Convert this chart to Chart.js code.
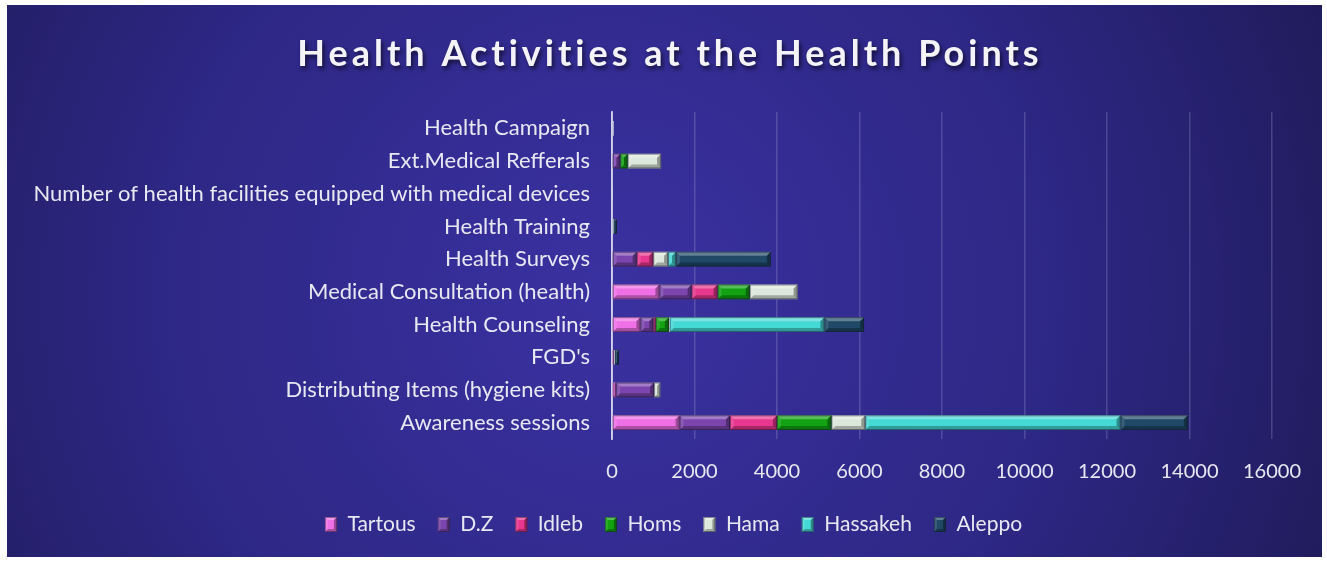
<!DOCTYPE html>
<html>
<head>
<meta charset="utf-8">
<title>Health Activities at the Health Points</title>
<script src="https://cdn.jsdelivr.net/npm/chart.js@4.4.1/dist/chart.umd.min.js"></script>
<style>
    html, body { margin: 0; padding: 0; background: #ffffff; }
    #wrap { position: absolute; left: 7px; top: 5px; width: 1315px; height: 552px; }
</style>
</head>
<body>
<div id="wrap"><canvas id="healthChart"></canvas></div>
<script>
// categories, top to bottom
const activities = [
    "Health Campaign",
    "Ext.Medical Refferals",
    "Number of health facilities equipped with medical devices",
    "Health Training",
    "Health Surveys",
    "Medical Consultation (health)",
    "Health Counseling",
    "FGD's",
    "Distributing Items (hygiene kits)",
    "Awareness sessions"
];

const tartous  = [0,   0,   0,  0,    0, 1150,  690,  50, 100, 1640];
const dz       = [0, 200,   0,  0,  600,  780,  310,   0, 920, 1220];
const idleb    = [0,   0,   0,  0,  400,  630,   60,   0,   0, 1140];
const homs     = [0, 180,   0, 20,    0,  780,  320,   0,   0, 1320];
const hama     = [40, 810, 10, 20,  360, 1160,   20,  20, 150,  820];
const hassakeh = [0,   0,   0,  0,  190,    0, 3750,   0,   0, 6190];
const aleppo   = [0,   0,   0, 80, 2300,    0,  960, 100,   0, 1630];

const xTicks = [0, 2000, 4000, 6000, 8000, 10000, 12000, 14000, 16000];

const series = [
    { label: "Tartous",  data: tartous,  color: "#ef6fe6" },
    { label: "D.Z",      data: dz,       color: "#7b45ad" },
    { label: "Idleb",    data: idleb,    color: "#e8378f" },
    { label: "Homs",     data: homs,     color: "#12a212" },
    { label: "Hama",     data: hama,     color: "#dde8dc" },
    { label: "Hassakeh", data: hassakeh, color: "#45d9d5" },
    { label: "Aleppo",   data: aleppo,   color: "#1f4966" }
];

const textColor = "#e8e8f2";

// gradient background over the whole canvas
const backgroundPlugin = {
    id: "bg",
    beforeDraw(chart) {
        const { ctx, width, height } = chart;
        const g = ctx.createRadialGradient(600, 290, 20, 600, 290, 820);
        g.addColorStop(0, "#3a31a0");
        g.addColorStop(0.55, "#2d2784");
        g.addColorStop(1, "#1e1a55");
        ctx.save();
        ctx.fillStyle = g;
        ctx.fillRect(0, 0, width, height);
        ctx.restore();
    }
};

// legend sits a little right of centre in the original
const legendShift = {
    id: "legendShift",
    afterLayout(chart) {
        if (chart.legend) {
            chart.legend.left += 20;
            chart.legend.right += 20;
        }
    }
};

function bevel(ctx, x0, y0, x1, y1, b) {
    const poly = (pts, fill) => {
        ctx.beginPath();
        ctx.moveTo(pts[0][0], pts[0][1]);
        for (let k = 1; k < pts.length; k++) ctx.lineTo(pts[k][0], pts[k][1]);
        ctx.closePath();
        ctx.fillStyle = fill;
        ctx.fill();
    };
    poly([[x0, y0], [x1, y0], [x1 - b, y0 + b], [x0 + b, y0 + b]], "rgba(255,255,255,0.30)");
    poly([[x0, y1], [x1, y1], [x1 - b, y1 - b], [x0 + b, y1 - b]], "rgba(0,0,0,0.28)");
    poly([[x0, y0], [x0 + b, y0 + b], [x0 + b, y1 - b], [x0, y1]], "rgba(255,255,255,0.12)");
    poly([[x1, y0], [x1 - b, y0 + b], [x1 - b, y1 - b], [x1, y1]], "rgba(0,0,0,0.35)");
    ctx.strokeStyle = "rgba(20,20,40,0.45)";
    ctx.lineWidth = 1;
    ctx.strokeRect(x0 + 0.5, y0 + 0.5, x1 - x0 - 1, y1 - y0 - 1);
}

// bevel facets on each bar and legend box
const bevelPlugin = {
    id: "bevel",
    afterDatasetsDraw(chart) {
        const ctx = chart.ctx;
        ctx.save();
        chart.data.datasets.forEach((ds, i) => {
            chart.getDatasetMeta(i).data.forEach(bar => {
                const x0 = Math.min(bar.x, bar.base);
                const x1 = Math.max(bar.x, bar.base);
                if (x1 - x0 < 1) return;
                bevel(ctx, x0, bar.y - bar.height / 2, x1, bar.y + bar.height / 2, Math.min(4, (x1 - x0) / 2));
            });
        });
        ctx.restore();
    },
    afterDraw(chart) {
        const ctx = chart.ctx;
        const legend = chart.legend;
        if (!legend || !legend.legendHitBoxes) return;
        ctx.save();
        legend.legendHitBoxes.forEach(hb => {
            const bw = legend.options.labels.boxWidth;
            const bh = legend.options.labels.boxHeight;
            const y0 = hb.top + (hb.height - bh) / 2;
            bevel(ctx, hb.left, y0, hb.left + bw, y0 + bh, 3);
        });
        ctx.restore();
    }
};

// title with shadow and wide letter spacing
const titlePlugin = {
    id: "bigTitle",
    afterDraw(chart) {
        const ctx = chart.ctx;
        ctx.save();
        ctx.font = "bold 36px Lato";
        ctx.letterSpacing = "4px";
        ctx.textAlign = "center";
        ctx.textBaseline = "middle";
        ctx.shadowColor = "rgba(0,0,0,0.6)";
        ctx.shadowOffsetX = 2;
        ctx.shadowOffsetY = 3;
        ctx.shadowBlur = 4;
        ctx.fillStyle = "#f4f4f8";
        ctx.fillText("Health Activities at the Health Points", 663, 49);
        ctx.restore();
    }
};

Chart.defaults.font.family = "Lato";
Chart.defaults.font.size = 20;
Chart.defaults.color = textColor;

new Chart(document.getElementById("healthChart"), {
    type: "bar",
    data: {
        labels: activities,
        datasets: series.map(s => ({
            label: s.label,
            data: s.data,
            backgroundColor: s.color,
            borderWidth: 0,
            barPercentage: 0.9,
            categoryPercentage: 0.5
        }))
    },
    options: {
        indexAxis: "y",
        responsive: true,
        maintainAspectRatio: false,
        animation: false,
        layout: { padding: { top: 107, right: 22, bottom: 12, left: 0 } },
        plugins: {
            title: { display: false },
            tooltip: { enabled: false },
            legend: {
                position: "bottom",
                labels: {
                    boxWidth: 12,
                    boxHeight: 15,
                    padding: 22,
                    color: textColor,
                    font: { size: 21, family: "Lato" }
                }
            }
        },
        scales: {
            x: {
                stacked: true,
                min: 0,
                max: 16000,
                afterBuildTicks(axis) {
                    axis.ticks = xTicks.map(v => ({ value: v }));
                },
                afterFit(axis) {
                    axis.height = 53;
                },
                ticks: {
                    padding: 21,
                    color: textColor,
                    font: { size: 20 },
                    callback: v => String(v)
                },
                grid: {
                    drawTicks: false,
                    lineWidth: 1.5,
                    color: ctx => ctx.index === 0 ? "rgba(220,220,240,0.75)" : "rgba(200,200,235,0.22)"
                },
                border: { display: false }
            },
            y: {
                stacked: true,
                afterFit(axis) {
                    axis.width = 605;
                },
                ticks: { padding: 22, color: textColor, font: { size: 22 } },
                grid: { display: false, drawTicks: false },
                border: { display: true, color: "rgba(220,220,240,0.75)", width: 2 }
            }
        }
    },
    plugins: [backgroundPlugin, legendShift, bevelPlugin, titlePlugin]
});
</script>
</body>
</html>
